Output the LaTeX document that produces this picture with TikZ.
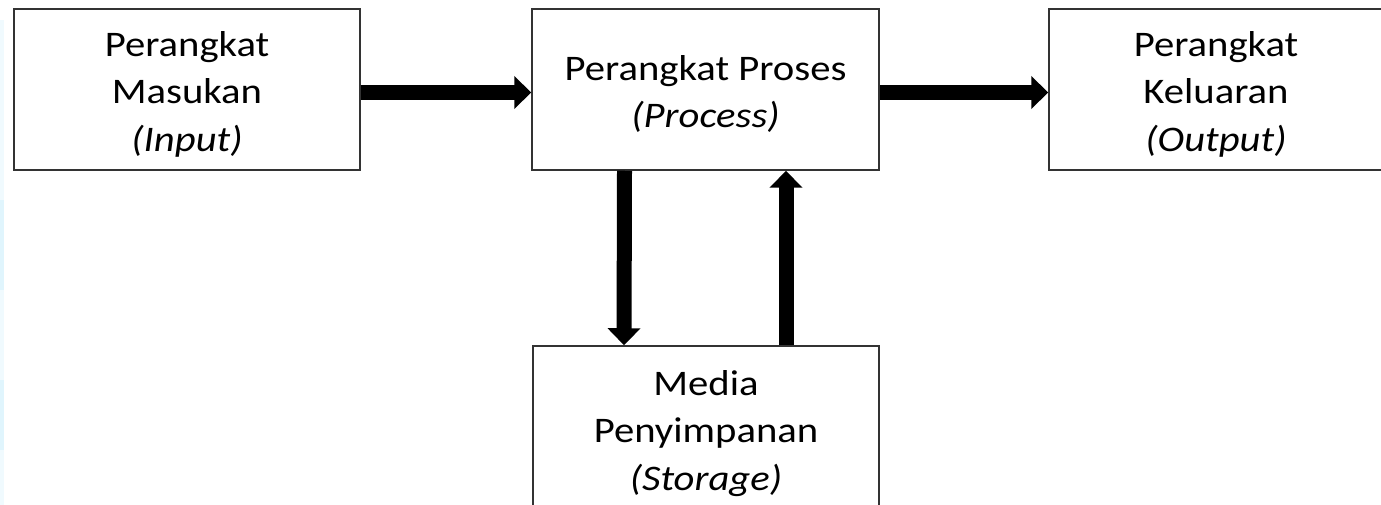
\documentclass[tikz,border=0pt]{standalone}
\usepackage{fontspec}
\setmainfont{Carlito}[FakeStretch=1.13]
\usetikzlibrary{arrows.meta,calc}

% centred stack of lines, set a little below the middle of its box
\newcommand{\blocktext}[1]{\raisebox{-5pt}[\height][\depth]{\begin{tabular}{@{}c@{}}#1\end{tabular}}}

\tikzset{
  block/.style={draw=black!80, line width=1.5pt, fill=white,
    inner sep=0pt, font=\fontsize{36}{47.5}\selectfont},
  flow/.style={line width=15pt, -{Triangle[length=17pt,width=32pt]}}
}

\begin{document}
\begin{tikzpicture}[x=1pt,y=1pt]
  % page frame
  \useasboundingbox (0,0) rectangle (1381,-505);
  \fill[white] (0,0) rectangle (1381,-505);
  % faint tint along the left border
  \fill[cyan!6] (0,-20) rectangle (4,-505);
  \fill[cyan!12] (0,-200) rectangle (4,-290);
  \fill[cyan!12] (0,-380) rectangle (4,-450);

  % blocks
  \node[block, minimum width=346pt, minimum height=161pt] (in)
    at (187,-89.5) {\blocktext{Perangkat\\Masukan\\\textit{(Input)}}};
  \node[block, minimum width=347pt, minimum height=161pt] (proc)
    at (705.5,-89.5) {\blocktext{Perangkat Proses\\\textit{(Process)}}};
  \node[block, minimum width=334pt, minimum height=161pt] (out)
    at (1216,-89.5) {\blocktext{Perangkat\\Keluaran\\\textit{(Output)}}};
  \node[block, minimum width=346pt, minimum height=164pt] (store)
    at (706,-428) {\blocktext{Media\\Penyimpanan\\\textit{(Storage)}}};

  % data flow
  \draw[flow] ([yshift=-3pt]in.east) -- ([yshift=-3pt]proc.west);
  \draw[flow] ([yshift=-3pt]proc.east) -- ([yshift=-3pt]out.west);
  \draw[flow] ([xshift=-81pt]proc.south) -- ([xshift=-82pt]store.north);
  \draw[flow] ([xshift=80pt]store.north) -- ([xshift=80.5pt]proc.south);
\end{tikzpicture}
\end{document}
